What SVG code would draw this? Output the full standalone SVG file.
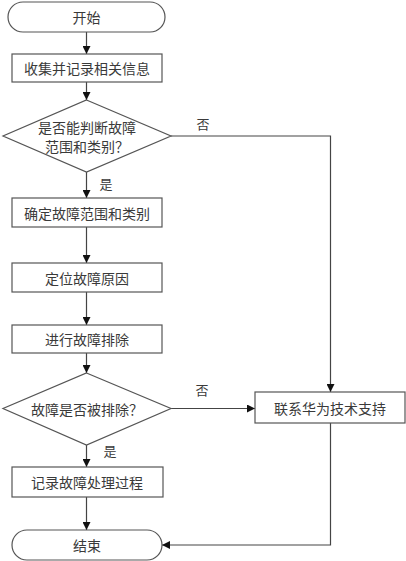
<svg xmlns="http://www.w3.org/2000/svg" width="406" height="561" viewBox="0 0 406 561">
<defs>
<marker id="arr" viewBox="0 0 10 10" refX="10" refY="5" markerWidth="8" markerHeight="8" markerUnits="userSpaceOnUse" orient="auto">
<path d="M0,0 L10,5 L0,10 z" fill="#111"/>
</marker>
<style>
.shape{fill:#fff;stroke:#555;stroke-width:1.2}
.t{font-family:"Noto Sans CJK SC","Noto Sans",sans-serif;font-size:14px;fill:#3a3a3a;text-anchor:middle;dominant-baseline:central}
.lbl{font-family:"Noto Sans CJK SC","Noto Sans",sans-serif;font-size:13px;fill:#3a3a3a;text-anchor:middle;dominant-baseline:central}
.c{fill:none;stroke:#444;stroke-width:1.2}
</style>
</defs>
<rect width="406" height="561" fill="#fff"/>
<g id="connectors">
<line class="c" x1="86.5" y1="32" x2="86.5" y2="54" marker-end="url(#arr)"/>
<line class="c" x1="86.5" y1="82" x2="86.5" y2="100" marker-end="url(#arr)"/>
<line class="c" x1="86.5" y1="172" x2="86.5" y2="198" marker-end="url(#arr)"/>
<line class="c" x1="86.5" y1="227" x2="86.5" y2="263" marker-end="url(#arr)"/>
<line class="c" x1="86.5" y1="292" x2="86.5" y2="325" marker-end="url(#arr)"/>
<line class="c" x1="86.5" y1="353" x2="86.5" y2="373" marker-end="url(#arr)"/>
<line class="c" x1="86.5" y1="445" x2="86.5" y2="467" marker-end="url(#arr)"/>
<line class="c" x1="86.5" y1="497" x2="86.5" y2="530" marker-end="url(#arr)"/>
<polyline class="c" points="171,136 330.5,136 330.5,392" marker-end="url(#arr)"/>
<line class="c" x1="171" y1="408.5" x2="255" y2="408.5" marker-end="url(#arr)"/>
<polyline class="c" points="330.5,423 330.5,545 162,545" marker-end="url(#arr)"/>
<text class="lbl" x="106" y="183">是</text>
<text class="lbl" x="203" y="123">否</text>
<text class="lbl" x="202" y="389">否</text>
<text class="lbl" x="110" y="450">是</text>
</g>
<g id="start">
<rect class="shape" x="8" y="2" width="157" height="30" rx="15" ry="15"/>
<text class="t" x="86.5" y="17">开始</text>
</g>
<g id="collect">
<rect class="shape" x="12" y="54" width="150" height="28"/>
<text class="t" x="87" y="68">收集并记录相关信息</text>
</g>
<g id="decide1">
<polygon class="shape" points="86.5,100 171,136 86.5,172 3,136"/>
<text class="t" x="87" y="127">是否能判断故障</text>
<text class="t" x="87" y="146">范围和类别？</text>
</g>
<g id="determine">
<rect class="shape" x="12" y="198" width="150" height="29"/>
<text class="t" x="87" y="212.5">确定故障范围和类别</text>
</g>
<g id="locate">
<rect class="shape" x="12" y="263" width="150" height="29"/>
<text class="t" x="87" y="277.5">定位故障原因</text>
</g>
<g id="fix">
<rect class="shape" x="12" y="325" width="150" height="28"/>
<text class="t" x="87" y="339">进行故障排除</text>
</g>
<g id="decide2">
<polygon class="shape" points="86.5,373 171,408.5 86.5,445 3,408.5"/>
<text class="t" x="87" y="408.5">故障是否被排除？</text>
</g>
<g id="record">
<rect class="shape" x="12" y="467" width="151" height="30"/>
<text class="t" x="87" y="482">记录故障处理过程</text>
</g>
<g id="support">
<rect class="shape" x="255" y="392" width="150" height="31"/>
<text class="t" x="330" y="407.5">联系华为技术支持</text>
</g>
<g id="end">
<rect class="shape" x="12" y="530" width="150" height="30" rx="15" ry="15"/>
<text class="t" x="87" y="545">结束</text>
</g>
</svg>
